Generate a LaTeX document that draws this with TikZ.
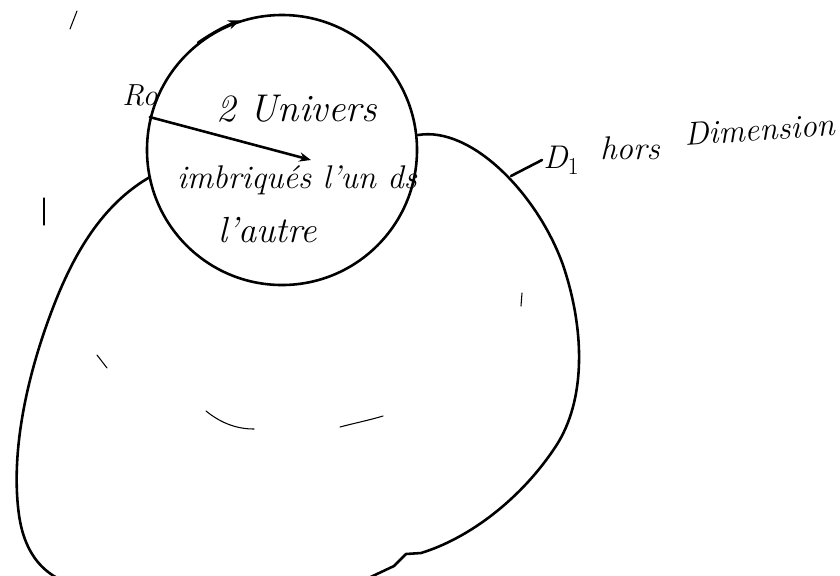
\documentclass[tikz,border=0pt]{standalone}
\usepackage{tikz}
\usetikzlibrary{shapes.geometric,arrows.meta,positioning,calc}

\begin{document}
\begin{tikzpicture}[
  x=0.03cm, y=-0.03cm,
  pen/.style={line width=2.2pt, line cap=round, line join=round},
  speck/.style={line width=0.9pt, line cap=round},
  univ/.style={draw, pen, circle, minimum size=8.1cm},
  hand/.style={font=\itshape\fontsize{28}{30}\selectfont, inner sep=1pt},
  arr/.style={pen, -{Stealth[length=10pt,width=8pt]}}
]
\useasboundingbox (0,0) rectangle (840,575);

% ── Small universe (front) ───────────────────────────────────────────────────
\node[univ] (small) at (282,150) {};
\draw[arr] (small.128) to[bend left=6] (small.108);

% ── Big universe (behind) ────────────────────────────────────────────────────
\draw[pen] (150,177) .. controls (110,200) and (80,240) .. (56,300)
           .. controls (28,370) and (10,450) .. (19,515)
           .. controls (24,550) and (40,572) .. (66,582);
\draw[pen] (418,135) .. controls (472,126) and (538,195) .. (563,265)
           .. controls (585,330) and (586,400) .. (556,446)
           .. controls (522,498) and (470,538) .. (421,553)
           -- (406,554) -- (394,566) -- (360,582);
\coordinate (bigedge) at (511,176);

% ── Pen marks inside ─────────────────────────────────────────────────────────
\draw[speck] (206,411) .. controls (222,424) and (238,429) .. (254,429);
\draw[speck] (340,427) .. controls (355,423) and (370,420) .. (383,416);
\draw[speck] (97,355) -- (107,368);
\draw[speck] (70,29) -- (77,11);
\draw[speck] (44,198) -- (44,225);
\draw[speck] (522,293) -- (521,306);

% ── Labels inside the small universe ─────────────────────────────────────────
\node[hand, font=\itshape\fontsize{33}{35}\selectfont] (title) at (297,109) {2 Univers};
\node[hand] (nested) at (297,180) {imbriqués l'un ds};
\node[hand, font=\itshape\fontsize{31}{33}\selectfont] (other) at (268,230) {l'autre};
\node[hand, font=\itshape\fontsize{26}{28}\selectfont] (origin) at (140,95) {Ro};

% ── Outside label ────────────────────────────────────────────────────────────
\node[hand, anchor=west] (d1)  at (542,160) {D$_1$};
\node[hand] (hors) at (630,148) {hors};
\node[hand, anchor=east, rotate=4] (dimen) at (836,124) {Dimension};

% ── Arrows / leaders ─────────────────────────────────────────────────────────
\coordinate (tip) at (311,160);
\draw[arr] (small.166) -- (tip);
\draw[pen] (bigedge) -- (d1.west);
\end{tikzpicture}
\end{document}
